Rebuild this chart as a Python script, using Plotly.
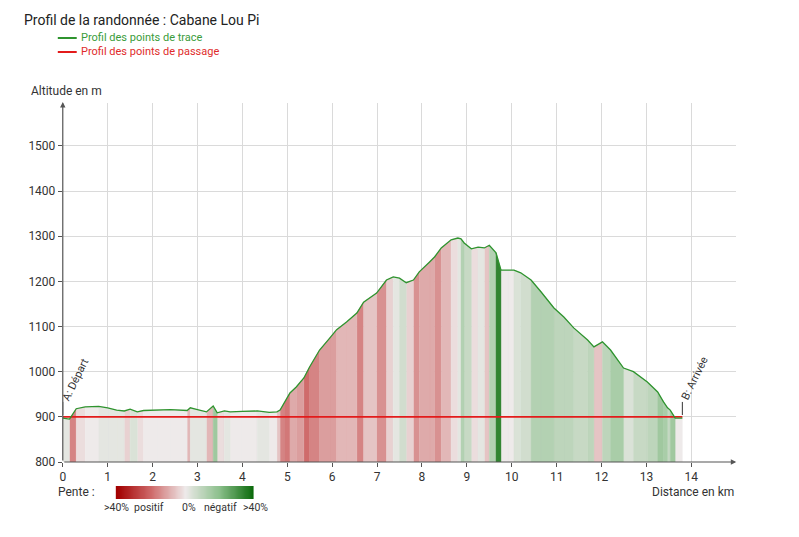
import numpy as np
import plotly.graph_objects as go
from plotly.colors import sample_colorscale

W, H = 799, 537
# hauteur réellement affichée dans la fenêtre (mesurée sur les rendus)
H_VIEW = 530

# profil des points de trace (distance en km, altitude en m)
TRACE_DIST = [0, 0.15, 0.3, 0.5, 0.8, 1.0, 1.2, 1.37, 1.5, 1.66, 1.8, 2.1, 2.4,
              2.77, 2.84, 3.0, 3.2, 3.35, 3.44, 3.6, 3.73, 4.0, 4.33, 4.6, 4.77,
              4.84, 4.93, 5.06, 5.2, 5.37, 5.5, 5.72, 5.95, 6.1, 6.32, 6.55, 6.7,
              6.99, 7.21, 7.36, 7.5, 7.65, 7.81, 7.94, 8.17, 8.28, 8.43, 8.65, 8.8,
              8.87, 8.94, 9.1, 9.25, 9.39, 9.5, 9.65, 9.76, 9.92, 10.05, 10.2,
              10.43, 10.65, 10.94, 11.16, 11.38, 11.69, 11.83, 12.02, 12.2, 12.49,
              12.71, 13.02, 13.25, 13.38, 13.47, 13.53, 13.64, 13.8]
TRACE_ALT = [897, 895, 918, 922, 923, 920, 915, 913, 917, 911, 914, 915, 916,
             914, 920, 916, 911, 924, 909, 913, 911, 912, 913, 910, 911,
             915, 930, 953, 966, 986, 1011, 1048, 1075, 1093, 1110, 1130, 1154,
             1174, 1203, 1210, 1207, 1197, 1203, 1221, 1243, 1254, 1274, 1292, 1296,
             1294, 1285, 1272, 1276, 1274, 1280, 1263, 1225, 1225, 1225, 1219,
             1203, 1177, 1141, 1121, 1097, 1070, 1055, 1066, 1048, 1008,
             1000, 977, 955, 933, 920, 915, 897, 897]

# profil des points de passage
PASSAGE_DIST = [0, 13.8]
PASSAGE_ALT = [900, 900]
PASSAGE_NAMES = ["A: Départ", "B: Arrivée"]

X_TICKS = list(range(0, 15))
Y_TICKS = [800, 900, 1000, 1100, 1200, 1300, 1400, 1500]

PENTE_MAX = 0.40
# rouge = montée forte, vert = descente forte
PENTE_SCALE = [[0.0, "#a30000"], [0.25, "#cf6b6b"], [0.5, "#eeeaea"],
               [0.75, "#8cc08c"], [1.0, "#0a6a0a"]]
PENTE_LABELS = [(114, ">40%"), (147, "positif"), (187, "0%"),
                (218, "négatif"), (253, ">40%")]

FONT = "Roboto"


def fx(px):
    return px / W


def fy(py):
    return 1 - py / H_VIEW


fig = go.Figure()

# bandes colorées selon la pente, regroupées par couleur
groups = {}
for i in range(len(TRACE_DIST) - 1):
    x0, x1 = TRACE_DIST[i], TRACE_DIST[i + 1]
    y0, y1 = TRACE_ALT[i], TRACE_ALT[i + 1]
    slope = (y1 - y0) / ((x1 - x0) * 1000)
    v = max(-1.0, min(1.0, slope / PENTE_MAX))
    t = round((1 - v) / 2 * 40) / 40
    g = groups.setdefault(t, ([], []))
    g[0].extend([x0, x0, x1, x1, None])
    g[1].extend([800, y0, y1, 800, None])

for t, (xs, ys) in sorted(groups.items()):
    col = sample_colorscale(PENTE_SCALE, [t])[0]
    fig.add_trace(go.Scatter(
        x=xs, y=ys, mode="lines", fill="toself", fillcolor=col,
        line=dict(width=0.4, color=col), hoverinfo="skip", showlegend=False,
    ))

fig.add_trace(go.Scatter(
    x=PASSAGE_DIST, y=PASSAGE_ALT, mode="lines",
    line=dict(color="#e31b1b", width=1.6), hoverinfo="skip", showlegend=False,
))
fig.add_trace(go.Scatter(
    x=TRACE_DIST, y=TRACE_ALT, mode="lines",
    line=dict(color="#2f942f", width=1.3), showlegend=False,
))

# dégradé de la légende "Pente"
fig.add_trace(go.Heatmap(
    z=[list(np.linspace(0, 1, 60))], colorscale=PENTE_SCALE, zsmooth="best",
    showscale=False, hoverinfo="skip", xaxis="x2", yaxis="y2",
))

axis_common = dict(
    showgrid=True, gridcolor="#dadada", gridwidth=1, zeroline=False,
    showline=False, ticks="outside", ticklen=4, tickcolor="#555",
    tickfont=dict(family=FONT, size=12, color="#333"),
)
fig.update_layout(
    width=W, height=H,
    margin=dict(l=0, r=0, t=0, b=0),
    paper_bgcolor="white", plot_bgcolor="white",
    font=dict(family=FONT),
    xaxis=dict(domain=[fx(60), fx(736)], range=[0, 15], tickvals=X_TICKS,
               **axis_common),
    yaxis=dict(domain=[fy(462), fy(103)], range=[800, 1595], tickvals=Y_TICKS,
               **axis_common),
    xaxis2=dict(domain=[fx(113), fx(252)], visible=False, anchor="y2"),
    yaxis2=dict(domain=[fy(499), fy(486)], visible=False, anchor="x2"),
)

ann = []
# axes avec flèches
ann.append(dict(x=15, y=800, ax=0, ay=800, xref="x", yref="y", axref="x",
                ayref="y", text="", showarrow=True, arrowhead=2, arrowsize=0.9,
                arrowwidth=1.2, arrowcolor="#555"))
ann.append(dict(x=0, y=1597, ax=0, ay=800, xref="x", yref="y", axref="x",
                ayref="y", text="", showarrow=True, arrowhead=2, arrowsize=0.9,
                arrowwidth=1.2, arrowcolor="#555"))

# étiquettes des points de passage
ann.append(dict(x=PASSAGE_DIST[0], y=982, xref="x", yref="y", xshift=13,
                text=PASSAGE_NAMES[0], textangle=-64, showarrow=False,
                font=dict(family=FONT, size=11, color="#333")))
ann.append(dict(x=PASSAGE_DIST[1], y=986, xref="x", yref="y", xshift=12,
                text=PASSAGE_NAMES[1], textangle=-64, showarrow=False,
                font=dict(family=FONT, size=11, color="#333")))


def text_at(px, py, text, size=12, color="#333", anchor="left"):
    ann.append(dict(x=fx(px), y=fy(py), xref="paper", yref="paper", text=text,
                    showarrow=False, xanchor=anchor, yanchor="middle",
                    font=dict(family=FONT, size=size, color=color)))


text_at(19, 20, "Profil de la randonnée : Cabane Lou Pi", size=14, color="#222")
text_at(76, 38, "Profil des points de trace", size=11, color="#3a9c3a")
text_at(76, 52, "Profil des points de passage", size=11, color="#e02b2b")
text_at(26, 91, "Altitude en m", size=12)
text_at(736, 492, "Distance en km", size=12, anchor="right")
text_at(53, 492, "Pente :", size=12)
for px, lab in PENTE_LABELS:
    text_at(px, 507, lab, size=10.5, anchor="center")

fig.update_layout(annotations=ann)

shapes = [
    dict(type="line", xref="paper", yref="paper", x0=fx(55), x1=fx(74),
         y0=fy(38), y1=fy(38), line=dict(color="#2f942f", width=2)),
    dict(type="line", xref="paper", yref="paper", x0=fx(55), x1=fx(74),
         y0=fy(52), y1=fy(52), line=dict(color="#e31b1b", width=2)),
]
for d in PASSAGE_DIST:
    shapes.append(dict(type="line", xref="x", yref="y", x0=d, x1=d, y0=904,
                       y1=933, line=dict(color="#333", width=1)))
fig.update_layout(shapes=shapes)

# page sans marge ni défilement
page_css = ("document.documentElement.style.overflow='hidden';"
            "document.body.style.margin='0';"
            "document.body.style.overflow='hidden';")
fig.write_html("out.html", post_script=page_css,
               config={"displayModeBar": False})
